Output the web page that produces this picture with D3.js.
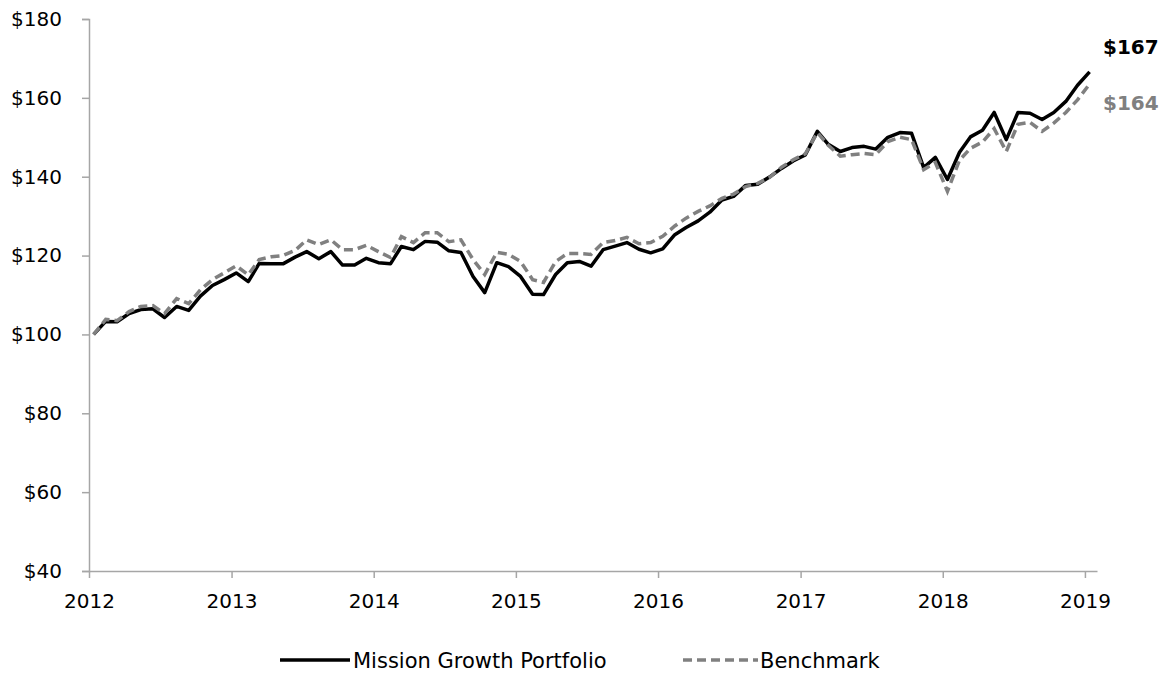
<!DOCTYPE html>
<html>
<head>
<meta charset="utf-8">
<script src="https://cdn.jsdelivr.net/npm/d3@7"></script>
<style>
  body { margin: 0; background: #fff; }
  svg text { font-family: "DejaVu Sans", sans-serif; }
</style>
</head>
<body>
<div id="chart"></div>
<script>
// monthly values, Jan 2012 .. Jan 2019
var startMonth = new Date(2012, 0, 1);
var portfolio = [100, 103.3, 103.2, 105.3, 106.3, 106.5, 104.3, 107.1, 106.1, 109.7, 112.4, 113.9,
  115.6, 113.4, 118.0, 117.9, 117.9, 119.6, 121.0, 119.2, 121.0, 117.6, 117.6, 119.3,
  118.2, 117.9, 122.3, 121.5, 123.6, 123.4, 121.2, 120.8, 114.7, 110.6, 118.2, 117.2,
  114.7, 110.2, 110.1, 115.2, 118.2, 118.5, 117.3, 121.5, 122.4, 123.3, 121.6, 120.7,
  121.7, 125.3, 127.1, 128.8, 131.0, 134.1, 135.0, 137.8, 138.1, 139.9, 142.1, 144.0,
  145.5, 151.5, 148.2, 146.4, 147.4, 147.7, 147.0, 150.0, 151.2, 151.0, 142.3, 144.9,
  139.3, 146.2, 150.1, 151.8, 156.3, 149.4, 156.3, 156.1, 154.5, 156.3, 159.1, 163.2,
  166.6];
var benchmark = [100, 103.8, 103.5, 105.8, 107.1, 107.3, 105.3, 109.1, 107.8, 111.3, 113.9, 115.6,
  117.4, 115.1, 119.0, 119.7, 120.0, 121.3, 124.0, 122.8, 124.0, 121.5, 121.5, 122.6,
  121.0, 119.5, 124.8, 123.3, 125.8, 125.8, 123.5, 124.0, 119.0, 115.2, 120.8, 120.3,
  118.5, 113.9, 113.2, 118.5, 120.5, 120.5, 120.3, 123.3, 123.8, 124.6, 123.0, 123.3,
  124.9, 127.5, 129.5, 131.2, 132.6, 134.5, 135.6, 137.5, 138.3, 139.8, 142.4, 144.3,
  145.8, 151.2, 148.0, 145.2, 145.6, 145.9, 145.6, 148.9, 150.0, 149.4, 141.8, 143.6,
  136.3, 144.2, 147.2, 148.8, 152.2, 146.4, 153.3, 153.8, 151.5, 153.6, 156.3, 159.5,
  163.5];
var yTicks = [40, 60, 80, 100, 120, 140, 160, 180];
var yearTicks = [2012, 2013, 2014, 2015, 2016, 2017, 2018, 2019];
var seriesNames = ["Mission Growth Portfolio", "Benchmark"];
var endLabels = ["$167", "$164"];

var width = 1164, height = 673;
// plot box (note: "top" is taken by window.top, so prefix these)
var plotLeft = 89, plotRight = 1097, plotTop = 19, plotBottom = 571;

var svg = d3.select("#chart").append("svg")
  .attr("width", width)
  .attr("height", height);

var x = d3.scaleTime()
  .domain([new Date(2012, 0, 1), new Date(2019, 1, 1)])
  .range([plotLeft, plotRight]);
var y = d3.scaleLinear().domain([40, 180]).range([plotBottom, plotTop]);

// points sit mid month
function monthDate(i) { return d3.timeDay.offset(d3.timeMonth.offset(startMonth, i), 12); }

var axisColor = "#a6a6a6";

// y axis
var yAxis = svg.append("g")
  .attr("transform", "translate(" + plotLeft + ",0)")
  .call(d3.axisLeft(y).tickValues(yTicks).tickSize(7).tickPadding(8)
    .tickFormat(function(d) { return "$" + d; }));
yAxis.select(".domain").attr("stroke", axisColor).attr("stroke-width", 1.5);
yAxis.selectAll(".tick line").attr("stroke", axisColor).attr("stroke-width", 1.5);
yAxis.selectAll(".tick text").attr("font-size", 20).attr("fill", "#000").attr("x", -27);

// x axis
var xAxis = svg.append("g")
  .attr("transform", "translate(0," + plotBottom + ")")
  .call(d3.axisBottom(x).tickValues(yearTicks.map(function(t) { return new Date(t, 0, 1); }))
    .tickSize(7).tickSizeOuter(0).tickPadding(16).tickFormat(d3.timeFormat("%Y")));
xAxis.select(".domain").attr("stroke", axisColor).attr("stroke-width", 1.5);
xAxis.selectAll(".tick text").attr("font-size", 20).attr("fill", "#000");
xAxis.selectAll(".tick line").attr("stroke", axisColor).attr("stroke-width", 1.5);

var line = d3.line()
  .x(function(d, i) { return x(monthDate(i)); })
  .y(function(d) { return y(d); });

svg.append("path")
  .datum(portfolio)
  .attr("d", line)
  .attr("fill", "none")
  .attr("stroke", "#000")
  .attr("stroke-width", 3.5)
  .attr("stroke-linejoin", "round");

svg.append("path")
  .datum(benchmark)
  .attr("d", line)
  .attr("fill", "none")
  .attr("stroke", "#808080")
  .attr("stroke-width", 3.5)
  .attr("stroke-dasharray", "9,5");

// end value labels
svg.append("text")
  .attr("x", 1103).attr("y", 54)
  .attr("font-size", 20).attr("font-weight", "bold").attr("fill", "#000")
  .text(endLabels[0]);
svg.append("text")
  .attr("x", 1103).attr("y", 110)
  .attr("font-size", 20).attr("font-weight", "bold").attr("fill", "#808080")
  .text(endLabels[1]);

// legend
var legendY = 660;
svg.append("line")
  .attr("x1", 280).attr("x2", 350).attr("y1", legendY).attr("y2", legendY)
  .attr("stroke", "#000").attr("stroke-width", 3.5);
svg.append("text")
  .attr("x", 353).attr("y", legendY + 8)
  .attr("font-family", "Liberation Sans, sans-serif")
  .attr("font-size", 21).attr("fill", "#000")
  .text(seriesNames[0]);
svg.append("line")
  .attr("x1", 683).attr("x2", 758).attr("y1", legendY).attr("y2", legendY)
  .attr("stroke", "#808080").attr("stroke-width", 3.5).attr("stroke-dasharray", "9,5");
svg.append("text")
  .attr("x", 760).attr("y", legendY + 8)
  .attr("font-family", "Liberation Sans, sans-serif")
  .attr("font-size", 21).attr("fill", "#000")
  .text(seriesNames[1]);
</script>
</body>
</html>
